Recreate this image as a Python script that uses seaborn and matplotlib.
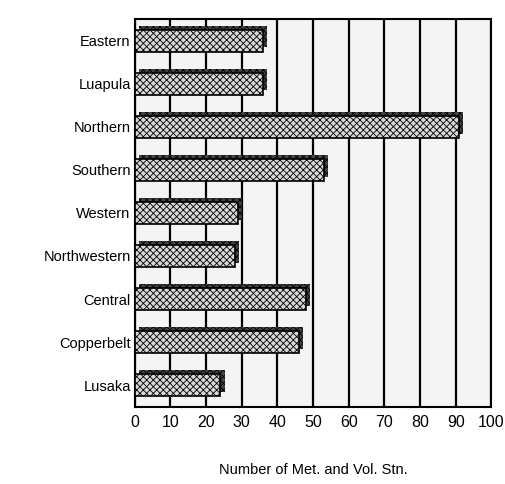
import matplotlib
matplotlib.use("Agg")
import matplotlib.pyplot as plt
import matplotlib.patheffects as pe
import seaborn as sns
import pandas as pd

# provinces, top to bottom
provinces = ["Eastern", "Luapula", "Northern", "Southern", "Western",
             "Northwestern", "Central", "Copperbelt", "Lusaka"]
stations = [36, 36, 91, 53, 29, 28, 48, 46, 24]
xticks = [0, 10, 20, 30, 40, 50, 60, 70, 80, 90, 100]

df = pd.DataFrame({"province": provinces, "n": stations})

sns.set_style("white")
plt.rcParams["font.family"] = ["Liberation Sans", "DejaVu Sans"]
plt.rcParams["hatch.color"] = "#555555"
plt.rcParams["hatch.linewidth"] = 0.6

fig = plt.figure(figsize=(5.05, 4.84), dpi=100)
ax = fig.add_axes([0.267, 0.16, 0.706, 0.80])
ax.set_facecolor("#f4f4f4")

sns.barplot(data=df, x="n", y="province", orient="h", color="#d8d8d8",
            width=0.5, edgecolor="black", linewidth=1.2, ax=ax, zorder=3)
# fake 3d depth: dark block up and to the right of each bar
for p in ax.patches:
    p.set_hatch("xxxxx")
    p.set_path_effects([pe.SimplePatchShadow(offset=(3, 3), shadow_rgbFace="#444444", alpha=1),
                        pe.Normal()])

ax.set_xlim(0, 100)
ax.set_xticks(xticks)
ax.set_xticklabels([str(t) for t in xticks], fontsize=11.5, color="black")
ax.tick_params(axis="y", labelsize=10.5, labelcolor="black", length=0, pad=3)
ax.tick_params(axis="x", length=0, pad=6)
ax.grid(axis="x", color="black", linewidth=1.6, zorder=0)
ax.set_axisbelow(True)
for s in ax.spines.values():
    s.set_color("black")
    s.set_linewidth(1.5)
ax.set_ylabel("")
ax.set_xlabel("Number of Met. and Vol. Stn.", fontsize=10.5, color="black", labelpad=24)

fig.savefig("out.png", dpi=100)
